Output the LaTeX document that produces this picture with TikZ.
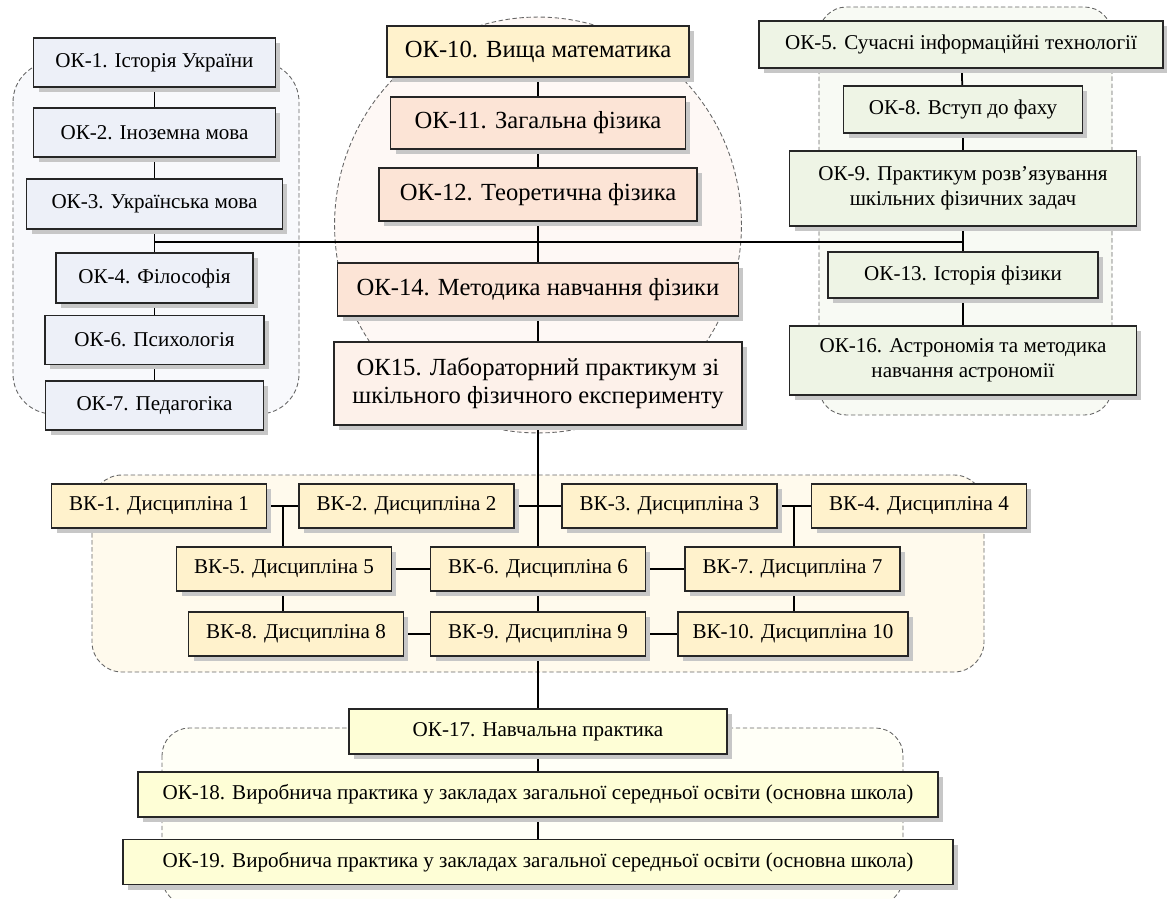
\documentclass[tikz,border=0pt]{standalone}
\usepackage{fontspec}
\setmainfont{Liberation Serif}
\usepackage{tikz}
\usetikzlibrary{shadows}

\definecolor{genfill}{HTML}{EDF0F8}
\definecolor{genbg}{HTML}{F8F9FC}
\definecolor{mathfill}{HTML}{FFF2CC}
\definecolor{physfill}{HTML}{FCE4D6}
\definecolor{labfill}{HTML}{FDF1EA}
\definecolor{circbg}{HTML}{FEF8F5}
\definecolor{proffill}{HTML}{EEF4E5}
\definecolor{profbg}{HTML}{F8FAF4}
\definecolor{vkfill}{HTML}{FFF2CC}
\definecolor{vkbg}{HTML}{FFFAED}
\definecolor{pracfill}{HTML}{FEFED6}
\definecolor{pracbg}{HTML}{FFFFF7}

\pgfdeclarelayer{background}
\pgfdeclarelayer{lines}
\pgfsetlayers{background,lines,main}

\tikzstyle{box}=[rectangle, draw=black!85, line width=0.8pt, inner sep=2pt, align=center, font=\fontsize{12}{14.4}\selectfont, drop shadow={shadow xshift=1mm, shadow yshift=-1mm, fill=black!22, opacity=1}]
\tikzstyle{genbox}=[box, fill=genfill]
\tikzstyle{mathbox}=[box, fill=mathfill, font=\fontsize{14}{16}\selectfont]
\tikzstyle{physbox}=[box, fill=physfill, font=\fontsize{14}{16}\selectfont]
\tikzstyle{labbox}=[box, fill=labfill, font=\fontsize{14}{16}\selectfont]
\tikzstyle{profbox}=[box, fill=proffill]
\tikzstyle{vkbox}=[box, fill=vkfill, minimum width=4.3cm, minimum height=0.88cm]
\tikzstyle{pracbox}=[box, fill=pracfill, minimum height=0.9cm]
\tikzstyle{grp}=[draw=black!60, dash pattern=on 2.5pt off 1.5pt, line width=0.5pt]
\tikzstyle{link}=[-, line width=1pt]
\tikzstyle{vklink}=[-, line width=0.6pt]

\begin{document}
\begin{tikzpicture}[x=0.02cm, y=-0.02cm]
				\useasboundingbox (0,0) rectangle (1167,899);

				%The left group
				\draw (154.5,62.5) node[genbox, minimum width=4.84cm, minimum height=0.98cm] (ok1) {ОК-1. Історія України};
				\draw (154.5,132.5) node[genbox, minimum width=4.84cm, minimum height=0.98cm] (ok2) {ОК-2. Іноземна мова};
				\draw (154.5,204) node[genbox, minimum width=5.12cm, minimum height=1cm] (ok3) {ОК-3. Українська мова};
				\draw (154.5,278) node[genbox, minimum width=3.94cm, minimum height=1cm] (ok4) {ОК-4. Філософія};
				\draw (154.5,340) node[genbox, minimum width=4.38cm, minimum height=0.98cm] (ok6) {ОК-6. Психологія};
				\draw (154.5,405.5) node[genbox, minimum width=4.36cm, minimum height=0.98cm] (ok7) {ОК-7. Педагогіка};

				%The central column
				\draw (538,51.5) node[mathbox, minimum width=6.04cm, minimum height=1.02cm] (ok10) {ОК-10. Вища математика};
				\draw (538,123) node[physbox, minimum width=5.9cm, minimum height=1.04cm] (ok11) {ОК-11. Загальна фізика};
				\draw (538,194.5) node[physbox, minimum width=6.36cm, minimum height=1.06cm] (ok12) {ОК-12. Теоретична фізика};
				\draw (538,289.5) node[physbox, minimum width=8.02cm, minimum height=1.06cm] (ok14) {ОК-14. Методика навчання фізики};
				\draw (538,383.5) node[labbox, minimum width=8.16cm, minimum height=1.66cm] (ok15) {ОК15. Лабораторний практикум зі\\шкільного фізичного експерименту};

				%The right group
				\draw (961,44.5) node[profbox, minimum width=8.08cm, minimum height=0.94cm] (ok5) {ОК-5. Сучасні інформаційні технології};
				\draw (963,109.5) node[profbox, minimum width=4.78cm, minimum height=0.94cm] (ok8) {ОК-8. Вступ до фаху};
				\draw (963,188.5) node[profbox, minimum width=6.94cm, minimum height=1.5cm] (ok9) {ОК-9. Практикум розв’язування\\шкільних фізичних задач};
				\draw (963,275) node[profbox, minimum width=5.4cm, minimum height=0.92cm] (ok13) {ОК-13. Історія фізики};
				\draw (963,360.5) node[profbox, minimum width=6.94cm, minimum height=1.38cm] (ok16) {ОК-16. Астрономія та методика\\навчання астрономії};

				%The elective courses
				\draw (159,506) node[vkbox] (vk1) {ВК-1. Дисципліна 1};
				\draw (406.5,506) node[vkbox] (vk2) {ВК-2. Дисципліна 2};
				\draw (669.5,506) node[vkbox] (vk3) {ВК-3. Дисципліна 3};
				\draw (919,506) node[vkbox] (vk4) {ВК-4. Дисципліна 4};
				\draw (284,569) node[vkbox] (vk5) {ВК-5. Дисципліна 5};
				\draw (538,569) node[vkbox] (vk6) {ВК-6. Дисципліна 6};
				\draw (792.5,569) node[vkbox] (vk7) {ВК-7. Дисципліна 7};
				\draw (296,634) node[vkbox] (vk8) {ВК-8. Дисципліна 8};
				\draw (538,634) node[vkbox] (vk9) {ВК-9. Дисципліна 9};
				\draw (793,634) node[vkbox, minimum width=4.6cm] (vk10) {ВК-10. Дисципліна 10};

				%The practice
				\draw (538,731.5) node[pracbox, minimum width=7.56cm] (ok17) {ОК-17. Навчальна практика};
				\draw (538,794.5) node[pracbox, minimum width=16cm] (ok18) {ОК-18. Виробнича практика у закладах загальної середньої освіти (основна школа)};
				\draw (538,862) node[pracbox, minimum width=16.6cm] (ok19) {ОК-19. Виробнича практика у закладах загальної середньої освіти (основна школа)};

				%The junctions
				\coordinate (jl) at (154.5,242);
				\coordinate (jr) at (963,242);
				\coordinate (jv1) at (283,506);
				\coordinate (jv2) at (794,506);

				%The connectors
				\begin{pgfonlayer}{lines}
					\foreach \a/\b in {ok1/ok2, ok2/ok3, ok3/ok4, ok4/ok6, ok6/ok7, ok5/ok8, ok8/ok9, ok9/ok13, ok13/ok16, ok10/ok11, ok11/ok12, ok12/ok14, ok14/ok15, ok15/vk6, vk6/vk9, vk9/ok17, ok17/ok18, ok18/ok19}
						\draw[link] (\a) -- (\b);
					\draw[link] (jl) -- (jr);
					\foreach \a/\b in {vk1/vk2, vk2/vk3, vk3/vk4, vk5/vk6, vk6/vk7, vk8/vk9, vk9/vk10}
						\draw[vklink] (\a) -- (\b);
					\draw[vklink] (jv1) -- (jv1 |- vk8);
					\draw[vklink] (jv2) -- (jv2 |- vk10);
				\end{pgfonlayer}

				%The groups
				\begin{pgfonlayer}{background}
					\draw[grp, fill=genbg, rounded corners=0.8cm] (13,62) rectangle (299,414);
					\draw[grp, fill=circbg] (538,225) ellipse [x radius=4.07cm, y radius=4.16cm];
					\draw[grp, fill=profbg, rounded corners=0.55cm] (819,7) rectangle (1112,415);
					\draw[grp, fill=vkbg, rounded corners=0.6cm] (92,475) rectangle (984,672);
					\draw[grp, fill=pracbg, rounded corners=0.55cm] (162,728) rectangle (903,905);
				\end{pgfonlayer}
			\end{tikzpicture}
\end{document}
